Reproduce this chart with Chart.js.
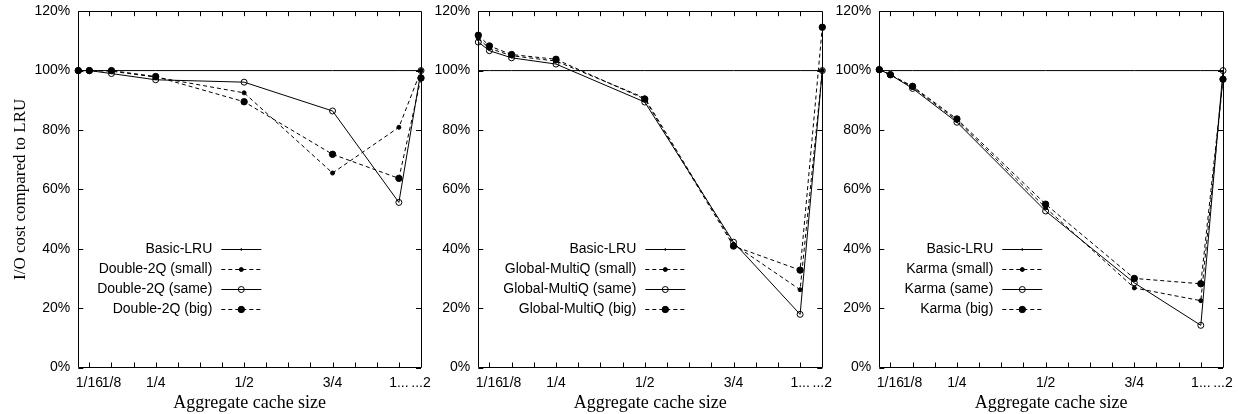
<!DOCTYPE html>
<html>
<head>
<meta charset="utf-8">
<script src="https://cdn.jsdelivr.net/npm/chart.js@4.4.1/dist/chart.umd.min.js"></script>
<style>
    body { margin: 0; background: #fff; }
    .panel { position: absolute; left: 0; top: 0; width: 1238px; height: 414px; }
</style>
</head>
<body>
<div class="panel"><canvas id="chart-2q"></canvas></div>
<div class="panel"><canvas id="chart-multiq"></canvas></div>
<div class="panel"><canvas id="chart-karma"></canvas></div>
<script>
// x positions in sixteenths of the cache (1 and 2 are squeezed at the end)
const xSlots = [0.5, 1, 2, 4, 8, 12, 15, 16];
const xTickSlots = [1, 2, 4, 8, 12, 15, 16];
const xTickLabels = ['1/16', '1/8', '1/4', '1/2', '3/4', '1...', '...2'];
const xMinorSlots = [1, 2, 3, 4, 5, 6, 7, 8, 9, 10, 11, 12, 13, 14, 15];
const yTickValues = [0, 20, 40, 60, 80, 100, 120];

// I/O cost compared to LRU (%)
const basicLru = [100, 100, 100, 100, 100, 100, 100, 100];

const double2qSmall = [100, 100, 99.8, 97.8, 92.5, 65.5, 80.9, 100];
const double2qSame  = [100, 100, 99.0, 96.9, 96.1, 86.4, 55.6, 100];
const double2qBig   = [100, 100, 100, 98.0, 89.5, 71.8, 63.7, 97.5];

const multiqSmall = [110.8, 107.5, 105.0, 103.2, 90.8, 41.5, 26.2, 100];
const multiqSame  = [109.6, 106.7, 104.3, 102.2, 89.4, 42.2, 17.9, 100];
const multiqBig   = [111.9, 108.3, 105.4, 103.8, 90.4, 40.9, 32.8, 114.6];

const karmaSmall = [100.3, 98.6, 94.4, 83.2, 53.8, 26.8, 22.5, 97.0];
const karmaSame  = [100.3, 98.6, 94.0, 82.6, 52.7, 28.5, 14.2, 100];
const karmaBig   = [100.3, 98.6, 94.7, 83.7, 55.0, 30.0, 28.2, 97.1];

Chart.defaults.font.family = '"Liberation Sans", Arial, sans-serif';
Chart.defaults.font.size = 14;
Chart.defaults.color = '#000';

// line / marker look per kind of series
const seriesStyles = {
    lru:   { dash: [],     radius: 0,   fill: '#000',          order: 3 },
    small: { dash: [4, 3], radius: 2,   fill: '#000',          order: 2 },
    same:  { dash: [],     radius: 3,   fill: 'rgba(0,0,0,0)', order: 1 },
    big:   { dash: [4, 3], radius: 3.2, fill: '#000',          order: 0 }
};

function makeDataset(label, values, kind) {
    const st = seriesStyles[kind];
    return {
        label: label,
        kind: kind,
        data: values.map((v, i) => ({ x: xSlots[i], y: v })),
        borderColor: '#000',
        borderWidth: 1,
        borderDash: st.dash,
        pointRadius: st.radius,
        pointHoverRadius: st.radius,
        pointBackgroundColor: st.fill,
        pointBorderColor: '#000',
        pointBorderWidth: 1,
        backgroundColor: st.fill,
        fill: false,
        tension: 0,
        clip: false,
        order: st.order
    };
}

// gnuplot style border with inward ticks
const frameTicks = {
    id: 'frameTicks',
    beforeDatasetsDraw(chart) {
        const { ctx, chartArea: a, scales: { x, y } } = chart;
        const len = 5;
        ctx.save();
        ctx.strokeStyle = '#000';
        ctx.lineWidth = 1;
        ctx.beginPath();
        ctx.rect(Math.round(a.left) + 0.5, Math.round(a.top) + 0.5,
                 Math.round(a.right - a.left), Math.round(a.bottom - a.top));
        xMinorSlots.forEach(v => {
            const px = Math.round(x.getPixelForValue(v)) + 0.5;
            ctx.moveTo(px, a.bottom);
            ctx.lineTo(px, a.bottom - len);
            ctx.moveTo(px, a.top);
            ctx.lineTo(px, a.top + len);
        });
        yTickValues.forEach(v => {
            const py = Math.round(y.getPixelForValue(v)) + 0.5;
            ctx.moveTo(a.left, py);
            ctx.lineTo(a.left + len, py);
            ctx.moveTo(a.right, py);
            ctx.lineTo(a.right - len, py);
        });
        ctx.stroke();
        ctx.restore();
    }
};

// key with right aligned text and sample lines
const gnuKey = {
    id: 'gnuKey',
    afterDatasetsDraw(chart, args, opts) {
        const { ctx, chartArea: a, scales: { y } } = chart;
        const textRight = a.left + opts.textRight;
        const top = y.getPixelForValue(40);
        ctx.save();
        ctx.font = '14px "Liberation Sans", Arial, sans-serif';
        ctx.textAlign = 'right';
        ctx.textBaseline = 'middle';
        chart.data.datasets.forEach((ds, i) => {
            const rowY = Math.round(top + i * 20) + 0.5;
            ctx.fillStyle = '#000';
            ctx.fillText(ds.label, textRight, rowY);
            const x0 = textRight + 9, x1 = textRight + 49, xm = (x0 + x1) / 2;
            ctx.strokeStyle = '#000';
            ctx.lineWidth = 1;
            ctx.setLineDash(ds.borderDash);
            ctx.beginPath();
            ctx.moveTo(x0, rowY);
            ctx.lineTo(x1, rowY);
            ctx.stroke();
            ctx.setLineDash([]);
            const r = ds.kind === 'lru' ? 0.8 : ds.pointRadius;
            ctx.beginPath();
            ctx.arc(xm, rowY, r, 0, Math.PI * 2);
            ctx.fillStyle = ds.pointBackgroundColor;
            ctx.fill();
            ctx.stroke();
        });
        ctx.restore();
    }
};

function makePanel(canvasId, series, opts) {
    return new Chart(document.getElementById(canvasId), {
        type: 'line',
        data: { datasets: series },
        plugins: [frameTicks, gnuKey],
        options: {
            responsive: true,
            maintainAspectRatio: false,
            animation: false,
            events: [],
            layout: {
                padding: { left: opts.left - opts.yWidth, right: 1238 - opts.right, top: 11.2, bottom: 0 }
            },
            plugins: {
                legend: { display: false },
                tooltip: { enabled: false },
                gnuKey: { textRight: opts.textRight }
            },
            scales: {
                x: {
                    type: 'linear',
                    min: 0.5,
                    max: 16,
                    grid: { display: false, drawTicks: false },
                    border: { display: false },
                    afterBuildTicks: scale => {
                        scale.ticks = xTickSlots.map(v => ({ value: v }));
                    },
                    afterFit: scale => {
                        scale.height = 46.5;
                        scale.paddingLeft = 0;
                        scale.paddingRight = 0;
                    },
                    ticks: {
                        autoSkip: false,
                        maxRotation: 0,
                        minRotation: 0,
                        padding: 7,
                        callback: (value, index) => xTickLabels[index]
                    },
                    title: {
                        display: true,
                        text: 'Aggregate cache size',
                        font: { family: '"Liberation Serif", "Times New Roman", serif', size: 18 },
                        padding: { top: 0, bottom: 0 }
                    }
                },
                y: {
                    min: 0,
                    max: 120,
                    grid: { display: false, drawTicks: false },
                    border: { display: false },
                    afterBuildTicks: scale => {
                        scale.ticks = yTickValues.map(v => ({ value: v }));
                    },
                    afterFit: scale => {
                        scale.width = opts.yWidth;
                        scale.paddingTop = 0;
                        scale.paddingBottom = 0;
                    },
                    ticks: {
                        padding: 8,
                        callback: value => value + '%'
                    },
                    title: {
                        display: !!opts.yTitle,
                        text: opts.yTitle || '',
                        font: { family: '"Liberation Serif", "Times New Roman", serif', size: 17 },
                        padding: { top: 10, bottom: 0 }
                    }
                }
            }
        }
    });
}

makePanel('chart-2q', [
    makeDataset('Basic-LRU', basicLru, 'lru'),
    makeDataset('Double-2Q (small)', double2qSmall, 'small'),
    makeDataset('Double-2Q (same)', double2qSame, 'same'),
    makeDataset('Double-2Q (big)', double2qBig, 'big')
], { left: 78.3, right: 421, yWidth: 78.3, textRight: 134, yTitle: 'I/O cost compared to LRU' });

makePanel('chart-multiq', [
    makeDataset('Basic-LRU', basicLru, 'lru'),
    makeDataset('Global-MultiQ (small)', multiqSmall, 'small'),
    makeDataset('Global-MultiQ (same)', multiqSame, 'same'),
    makeDataset('Global-MultiQ (big)', multiqBig, 'big')
], { left: 478.3, right: 822.3, yWidth: 55, textRight: 158 });

makePanel('chart-karma', [
    makeDataset('Basic-LRU', basicLru, 'lru'),
    makeDataset('Karma (small)', karmaSmall, 'small'),
    makeDataset('Karma (same)', karmaSame, 'same'),
    makeDataset('Karma (big)', karmaBig, 'big')
], { left: 879.3, right: 1223, yWidth: 55, textRight: 114 });
</script>
</body>
</html>
